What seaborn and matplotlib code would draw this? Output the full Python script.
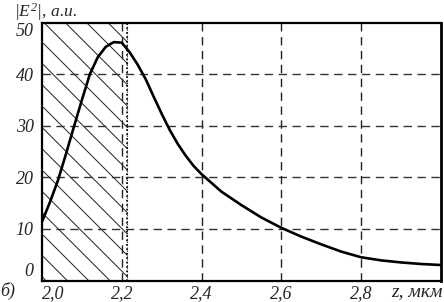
import matplotlib
matplotlib.use('Agg')
import matplotlib.pyplot as plt
import seaborn as sns
import pandas as pd

# |E^2| profile
z_um = [2.00, 2.02, 2.04, 2.06, 2.08, 2.10, 2.12, 2.14, 2.16, 2.18, 2.20,
        2.22, 2.24, 2.26, 2.28, 2.30, 2.32, 2.34, 2.36, 2.38, 2.40, 2.45,
        2.50, 2.55, 2.60, 2.65, 2.70, 2.75, 2.80, 2.85, 2.90, 2.95, 3.00]
e2 = [11.4, 15.2, 19.4, 24.5, 29.8, 35.0, 40.0, 43.3, 45.3, 46.2, 46.1,
      44.2, 41.8, 39.0, 35.6, 32.3, 29.2, 26.5, 24.2, 22.2, 20.6, 17.2,
      14.6, 12.2, 10.2, 8.5, 7.0, 5.6, 4.5, 3.9, 3.5, 3.2, 3.0]

x_ticks = [2.0, 2.2, 2.4, 2.6, 2.8]
x_labels = ['2,0', '2,2', '2,4', '2,6', '2,8']
y_ticks = [0, 10, 20, 30, 40, 50]
layer_end = 2.212

df = pd.DataFrame({'z': z_um, 'E2': e2})

# hatch spacing follows dpi, so pick dpi for the hatch and rescale point sizes
DPI = 128
S = 100 / DPI

sns.set_style('white')
plt.rcParams['font.family'] = ['Liberation Serif', 'DejaVu Serif']
plt.rcParams['font.style'] = 'italic'
plt.rcParams['mathtext.fontset'] = 'custom'
plt.rcParams['mathtext.rm'] = 'Liberation Serif'
plt.rcParams['mathtext.it'] = 'Liberation Serif:italic'
plt.rcParams['hatch.linewidth'] = 0.7 * S

fig = plt.figure(figsize=(444 / DPI, 302 / DPI), dpi=DPI)
ax = fig.add_axes([42 / 444, (302 - 280.5) / 302, 399 / 444, 258 / 302])

# hatched layer
ax.axvspan(2.0, layer_end, facecolor='none', edgecolor='#222222', hatch='\\\\',
           linewidth=0.8 * S, linestyle=':', zorder=1)
ax.axvline(layer_end, color='black', linestyle=':', linewidth=1.2 * S, zorder=3)

sns.lineplot(data=df, x='z', y='E2', color='black', linewidth=1.9 * S, ax=ax, zorder=4)

for xv in x_ticks[1:]:
    ax.axvline(xv, color='#222222', linestyle=(0, (6, 4)), linewidth=1.0 * S, zorder=2)
for yv in y_ticks[1:-1]:
    ax.axhline(yv, color='#333333', linestyle=(0, (6, 4)), linewidth=1.0 * S, zorder=2)

ax.set_xlim(2.0, 3.0)
ax.set_ylim(0, 50)
ax.set_xticks(x_ticks)
ax.set_xticklabels(x_labels)
ax.set_yticks(y_ticks)
ax.set_yticklabels([str(v) for v in y_ticks])
ax.set_xlabel('')
ax.set_ylabel('')
ax.tick_params(axis='both', length=0, labelsize=13 * S)
ax.tick_params(axis='x', pad=3 * S)
ax.tick_params(axis='y', pad=6 * S)
xl = ax.get_xticklabels()
xl[0].set_ha('left')
yl = ax.get_yticklabels()
yl[0].set_va('bottom')
yl[-1].set_va('top')

for s in ax.spines.values():
    s.set_color('black')
    s.set_linewidth(1.6 * S)
ax.spines['right'].set_linewidth(2.0 * S)

fig.text(14 / 444, 0.998, r'$|E^2|$, a.u.', ha='left', va='top', fontsize=12.5 * S)
fig.text(0.998, 0.005, 'z, мкм', ha='right', va='bottom', fontsize=14 * S)
fig.text(0.0, 0.005, 'б)', ha='left', va='bottom', fontsize=13 * S)

fig.savefig('out.png', dpi=DPI)
